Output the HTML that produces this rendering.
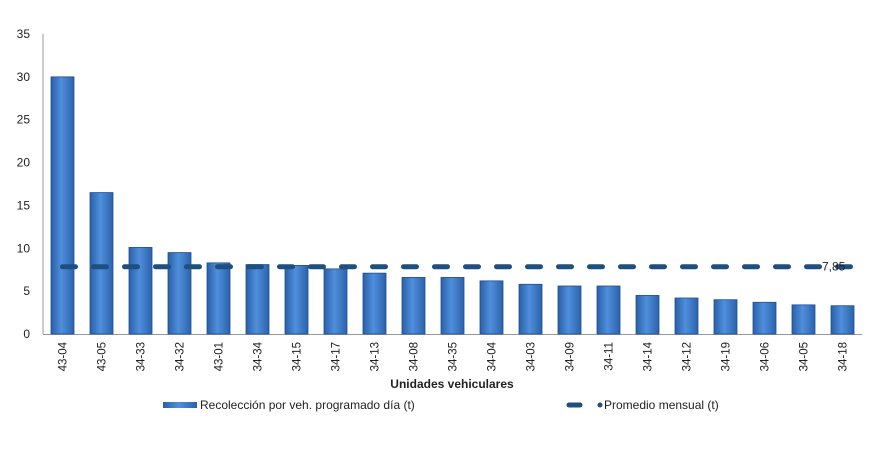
<!DOCTYPE html>
<html><head><meta charset="utf-8"><style>
body{margin:0;background:#fff;font-family:"Liberation Sans",sans-serif}
</style></head><body>
<svg id="c" width="878" height="454" xmlns="http://www.w3.org/2000/svg">
<defs>
<linearGradient id="bg" x1="0" x2="1" y1="0" y2="0">
<stop offset="0" stop-color="#2a5fa8"/><stop offset="0.45" stop-color="#4f8fdc"/><stop offset="1" stop-color="#2c62ab"/>
</linearGradient>
</defs>
</svg>
<script>
const categories=["43-04","43-05","34-33","34-32","43-01","34-34","34-15","34-17","34-13","34-08","34-35","34-04","34-03","34-09","34-11","34-14","34-12","34-19","34-06","34-05","34-18"];
const values=[30,16.5,10.1,9.5,8.3,8.1,8.0,7.6,7.1,6.6,6.6,6.2,5.8,5.6,5.6,4.5,4.2,4.0,3.7,3.4,3.3];
const average=[7.85];
const yTicks=[0,5,10,15,20,25,30,35];
const avgLabel=["7,85"];
const NS="http://www.w3.org/2000/svg";
const svg=document.getElementById('c');
const L=43,R=862,T=34,B=334,yMax=35;
const bw=(R-L)/categories.length;
const y=v=>B-v/yMax*(B-T);
const xc=i=>L+bw*(i+0.5);
function mk(t,a){const e=document.createElementNS(NS,t);for(const k in a)e.setAttribute(k,a[k]);svg.appendChild(e);return e;}
let e;
e=mk('line',{x1:L,y1:T,x2:L,y2:B,stroke:'#999','stroke-width':1});


e=mk('line',{x1:L,y1:B+0.5,x2:R,y2:B+0.5,stroke:'#999','stroke-width':1});


yTicks.forEach(t=>{
 e=mk('text',{x:30,y:y(t)+4,'text-anchor':'end','font-size':12,fill:'#222'});e.textContent=t;
 
 
});
values.forEach((v,i)=>{
 e=mk('rect',{x:xc(i)-11.5,y:y(v),width:23,height:B-y(v),fill:'url(#bg)',stroke:'#1f4f8f','stroke-width':0.8});
 
 
 e=mk('text',{transform:`translate(${xc(i)+4},${B+8}) rotate(-90)`,'text-anchor':'end','font-size':11.5,fill:'#222'});e.textContent=categories[i];
 
 
});
const ya=y(average[0]);
e=mk('line',{x1:xc(0),y1:ya,x2:858,y2:ya,stroke:'#1f4f7f','stroke-width':5,'stroke-dasharray':'13 18','stroke-linecap':'round'});


e=mk('text',{x:822,y:ya+4,'font-size':12,fill:'#222'});e.textContent=avgLabel[0];


e=mk('text',{x:452,y:388,'text-anchor':'middle','font-size':12,'font-weight':'bold',fill:'#222'});e.textContent='Unidades vehiculares';


e=mk('rect',{x:163,y:402,width:34,height:6,fill:'url(#bg)'});


e=mk('text',{x:200,y:409,'font-size':12,fill:'#222'});e.textContent='Recolección por veh. programado día (t)';


e=mk('line',{x1:569,y1:405,x2:580,y2:405,stroke:'#1f4f7f','stroke-width':5,'stroke-linecap':'round'});


e=mk('circle',{cx:600,cy:405,r:2.5,fill:'#1f4f7f'});


e=mk('text',{x:604,y:409,'font-size':12,fill:'#222'});e.textContent='Promedio mensual (t)';


</script>
</body></html>
